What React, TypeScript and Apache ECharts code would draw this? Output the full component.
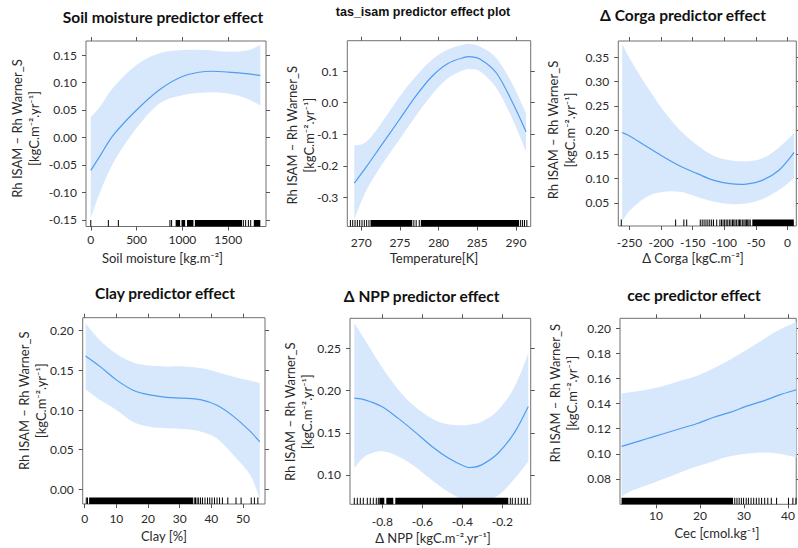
import React, { useEffect, useRef } from "react";
import * as echarts from "echarts";

// ---------- Panel 1: Soil moisture ----------
const soilX = [0, 100, 250, 500, 750, 1000, 1250, 1500, 1700, 1850];
const soilFit = [-0.06, -0.034, 0.005, 0.05, 0.087, 0.111, 0.12, 0.119, 0.116, 0.113];
const soilUpper = [0.037, 0.056, 0.092, 0.132, 0.153, 0.159, 0.159, 0.156, 0.158, 0.168];
const soilLower = [-0.147, -0.1, -0.045, 0.017, 0.062, 0.077, 0.082, 0.08, 0.071, 0.058];
const soilRugTicks = [0, 192, 301, 864, 882, 1665, 1690, 1720, 1745];
const soilRugBlocks = [[926, 975], [990, 1030], [1050, 1120], [1136, 1651], [1779, 1850]];

// ---------- Panel 2: Temperature ----------
const tasX = [269.1, 270.7, 272.8, 274.9, 277.0, 279.1, 281.2, 283.3, 284.1, 285.4, 287.5, 289.6, 291.3];
const tasFit = [-0.255, -0.202, -0.128, -0.055, 0.019, 0.082, 0.124, 0.143, 0.145, 0.137, 0.093, -0.002, -0.092];
const tasUpper = [-0.136, -0.123, -0.058, 0.017, 0.082, 0.135, 0.168, 0.184, 0.185, 0.177, 0.14, 0.056, -0.034];
const tasLower = [-0.37, -0.276, -0.192, -0.118, -0.044, 0.024, 0.077, 0.103, 0.106, 0.098, 0.045, -0.055, -0.155];
const tasRugTicks = [268.6, 268.9, 269.2, 269.5, 269.8, 270.1, 270.4, 270.7, 271.0, 276.8, 277.1, 277.5, 290.6, 290.85, 291.1, 291.4];
const tasRugBlocks = [[271.2, 276.6], [277.7, 290.4]];

// ---------- Panel 3: Δ Corga ----------
const corgaX = [-261.5, -248.4, -222.3, -196.1, -170, -143.8, -117.7, -91.5, -65.4, -39.2, -13.1, 10.5];
const corgaFit = [0.195, 0.187, 0.166, 0.145, 0.126, 0.111, 0.097, 0.09, 0.089, 0.097, 0.118, 0.154];
const corgaUpper = [0.378, 0.345, 0.29, 0.24, 0.2, 0.17, 0.148, 0.138, 0.136, 0.142, 0.165, 0.194];
const corgaLower = [0.012, 0.036, 0.063, 0.073, 0.073, 0.063, 0.053, 0.048, 0.049, 0.058, 0.077, 0.101];
const corgaRugTicks = [-263, -177, -164, -159.5, -138, -135, -132, -129, -126, -123, -120, -117, -112, -107, -104.5, -102, -99.5, -97, -94.5, -92, -89.5, -87, -85, -83, -80.5, -78, -76, -74, -71.5, -69, -67, -65, -63, -61, -59];
const corgaRugBlocks = [[-55.7, 10]];

// ---------- Panel 4: Clay ----------
const clayX = [0.3, 4.8, 10.0, 15.3, 20.6, 25.9, 31.2, 36.5, 41.8, 47.0, 52.3, 55.3];
const clayFit = [0.168, 0.155, 0.138, 0.125, 0.119, 0.116, 0.115, 0.113, 0.106, 0.092, 0.073, 0.06];
const clayUpper = [0.209, 0.188, 0.171, 0.16, 0.156, 0.155, 0.155, 0.153, 0.148, 0.142, 0.137, 0.134];
const clayLower = [0.126, 0.113, 0.1, 0.085, 0.079, 0.077, 0.076, 0.073, 0.064, 0.043, 0.018, -0.012];
const clayRugTicks = [0.5, 0.9, 34.6, 35.0, 35.5, 36.0, 36.6, 37.2, 38.0, 38.8, 39.5, 40.2, 41.0, 41.8, 42.6, 43.5, 45.2, 47.8, 49.4, 52.6, 53.6, 54.7];
const clayRugBlocks = [[1.4, 34.2]];

// ---------- Panel 5: Δ NPP ----------
const nppX = [-0.94, -0.887, -0.803, -0.72, -0.637, -0.553, -0.47, -0.387, -0.353, -0.303, -0.22, -0.137, -0.07];
const nppFit = [0.191, 0.189, 0.181, 0.167, 0.151, 0.134, 0.12, 0.11, 0.109, 0.112, 0.126, 0.151, 0.181];
const nppUpper = [0.28, 0.26, 0.228, 0.201, 0.181, 0.167, 0.16, 0.159, 0.16, 0.163, 0.177, 0.205, 0.244];
const nppLower = [0.108, 0.122, 0.128, 0.122, 0.11, 0.094, 0.08, 0.07, 0.068, 0.068, 0.076, 0.096, 0.116];
const nppRugTicks = [-0.94, -0.925, -0.91, -0.895, -0.875, -0.86, -0.845, -0.83, -0.82, -0.16, -0.15, -0.135, -0.12, -0.105, -0.09, -0.075];
const nppRugBlocks = [[-0.815, -0.79], [-0.78, -0.745], [-0.735, -0.17]];

// ---------- Panel 6: cec ----------
const cecX = [2.2, 4.1, 7.9, 11.7, 15.4, 19.2, 23.0, 26.8, 30.6, 34.3, 38.1, 41.9];
const cecFit = [0.106, 0.108, 0.112, 0.116, 0.12, 0.124, 0.129, 0.133, 0.138, 0.142, 0.147, 0.151];
const cecUpper = [0.148, 0.149, 0.151, 0.154, 0.158, 0.162, 0.168, 0.175, 0.183, 0.191, 0.199, 0.205];
const cecLower = [0.066, 0.07, 0.075, 0.08, 0.085, 0.09, 0.094, 0.098, 0.1, 0.101, 0.1, 0.097];
const cecRugTicks = [27.9, 28.4, 28.9, 29.4, 29.9, 30.5, 31.0, 31.6, 32.2, 32.8, 33.4, 34.0, 34.7, 35.4, 36.2, 37.4, 40.1, 41.1, 41.8];
const cecRugBlocks = [[2.2, 27.5]];

// ---------- Tick labels ----------
const soilXTicks = [0, 500, 1000, 1500];
const soilYTicks = [-0.15, -0.1, -0.05, 0, 0.05, 0.1, 0.15];
const tasXTicks = [270, 275, 280, 285, 290];
const tasYTicks = [-0.3, -0.2, -0.1, 0, 0.1];
const corgaXTicks = [-250, -200, -150, -100, -50, 0];
const corgaYTicks = [0.05, 0.1, 0.15, 0.2, 0.25, 0.3, 0.35];
const clayXTicks = [0, 10, 20, 30, 40, 50];
const clayYTicks = [0, 0.05, 0.1, 0.15, 0.2];
const nppXTicks = [-0.8, -0.6, -0.4, -0.2];
const nppYTicks = [0.1, 0.15, 0.2, 0.25];
const cecXTicks = [10, 20, 30, 40];
const cecYTicks = [0.08, 0.1, 0.12, 0.14, 0.16, 0.18, 0.2];

// ---------- Texts ----------
const titles = [
  "Soil moisture predictor effect",
  "tas_isam predictor effect plot",
  "Δ Corga predictor effect",
  "Clay predictor effect",
  "Δ NPP predictor effect",
  "cec predictor effect",
];
const xTitles = [
  "Soil moisture [kg.m⁻²]",
  "Temperature[K]",
  "Δ Corga [kgC.m⁻²]",
  "Clay [%]",
  "Δ NPP [kgC.m⁻².yr⁻¹]",
  "Cec [cmol.kg⁻¹]",
];
const yTitle = "Rh ISAM – Rh Warner_S\n[kgC.m⁻².yr⁻¹]";

const FONT = "Lato, 'Liberation Sans', 'DejaVu Sans', sans-serif";
const BAND = "#d7e8fd";
const LINE = "#4f9cf0";
const RUG_H = 6.5;

type Panel = {
  x: number[]; fit: number[]; upper: number[]; lower: number[];
  rugTicks: number[]; rugBlocks: number[][];
  xRange: [number, number]; yRange: [number, number];
  xTicks: number[]; yTicks: number[]; xDec: number; yDec: number;
  grid: { left: number; top: number; width: number; height: number };
  title: { x: number; y: number; size: number; font: string };
  xTitle: { x: number; y: number };
  yTitle: { x: number; y: number };
  labelMargin: number;
};

const panels: Panel[] = [
  {
    x: soilX, fit: soilFit, upper: soilUpper, lower: soilLower,
    rugTicks: soilRugTicks, rugBlocks: soilRugBlocks,
    xRange: [-52, 1912], yRange: [-0.162, 0.1755],
    xTicks: soilXTicks, yTicks: soilYTicks, xDec: 0, yDec: 2,
    grid: { left: 86, top: 41, width: 180, height: 185.5 },
    title: { x: 163, y: 17, size: 15.5, font: FONT },
    xTitle: { x: 162.5, y: 258 }, yTitle: { x: 25.5, y: 128.5 }, labelMargin: 7,
  },
  {
    x: tasX, fit: tasFit, upper: tasUpper, lower: tasLower,
    rugTicks: tasRugTicks, rugBlocks: tasRugBlocks,
    xRange: [268.2, 291.9], yRange: [-0.392, 0.196],
    xTicks: tasXTicks, yTicks: tasYTicks, xDec: 0, yDec: 1,
    grid: { left: 347.3, top: 40.7, width: 183.4, height: 185.8 },
    title: { x: 423, y: 12, size: 12.5, font: "'Liberation Sans', Arial, sans-serif" },
    xTitle: { x: 434, y: 257.5 }, yTitle: { x: 300.8, y: 135.3 }, labelMargin: 10,
  },
  {
    x: corgaX, fit: corgaFit, upper: corgaUpper, lower: corgaLower,
    rugTicks: corgaRugTicks, rugBlocks: corgaRugBlocks,
    xRange: [-267.7, 13.9], yRange: [0.0026, 0.3836],
    xTicks: corgaXTicks, yTicks: corgaYTicks, xDec: 0, yDec: 2,
    grid: { left: 618.3, top: 41, width: 178, height: 185 },
    title: { x: 683, y: 15, size: 15.5, font: FONT },
    xTitle: { x: 693, y: 258 }, yTitle: { x: 561.7, y: 130 }, labelMargin: 10.5,
  },
  {
    x: clayX, fit: clayFit, upper: clayUpper, lower: clayLower,
    rugTicks: clayRugTicks, rugBlocks: clayRugBlocks,
    xRange: [-0.63, 56.95], yRange: [-0.0185, 0.2164],
    xTicks: clayXTicks, yTicks: clayYTicks, xDec: 0, yDec: 2,
    grid: { left: 82.7, top: 317.7, width: 182.3, height: 186.3 },
    title: { x: 165, y: 293.3, size: 15.5, font: FONT },
    xTitle: { x: 164, y: 535.5 }, yTitle: { x: 32.5, y: 400.8 }, labelMargin: 8.5,
  },
  {
    x: nppX, fit: nppFit, upper: nppUpper, lower: nppLower,
    rugTicks: nppRugTicks, rugBlocks: nppRugBlocks,
    xRange: [-0.9615, -0.058], yRange: [0.0653, 0.2855],
    xTicks: nppXTicks, yTicks: nppYTicks, xDec: 1, yDec: 2,
    grid: { left: 350, top: 318.3, width: 180.7, height: 186 },
    title: { x: 421.7, y: 295.7, size: 15.5, font: FONT },
    xTitle: { x: 433, y: 538 }, yTitle: { x: 298.3, y: 411.7 }, labelMargin: 11,
  },
  {
    x: cecX, fit: cecFit, upper: cecUpper, lower: cecLower,
    rugTicks: cecRugTicks, rugBlocks: cecRugBlocks,
    xRange: [1.84, 41.86], yRange: [0.0598, 0.208],
    xTicks: cecXTicks, yTicks: cecYTicks, xDec: 0, yDec: 2,
    grid: { left: 620, top: 318.3, width: 176.5, height: 186 },
    title: { x: 694, y: 295, size: 15.5, font: FONT },
    xTitle: { x: 717, y: 533 }, yTitle: { x: 563.3, y: 393.3 }, labelMargin: 5,
  },
];

// Catmull-Rom smoothing of pixel points into cubic bezier path commands (rendering only)
function curve(pts: number[][], start: "M" | "L"): string {
  let d = `${start}${pts[0][0]},${pts[0][1]}`;
  const n = pts.length;
  for (let k = 0; k < n - 1; k++) {
    const p0 = pts[Math.max(0, k - 1)];
    const p1 = pts[k];
    const p2 = pts[k + 1];
    const p3 = pts[Math.min(n - 1, k + 2)];
    const t = 1 / 6;
    const c1x = p1[0] + (p2[0] - p0[0]) * t;
    const c1y = p1[1] + (p2[1] - p0[1]) * t;
    const c2x = p2[0] - (p3[0] - p1[0]) * t;
    const c2y = p2[1] - (p3[1] - p1[1]) * t;
    d += ` C${c1x},${c1y} ${c2x},${c2y} ${p2[0]},${p2[1]}`;
  }
  return d;
}

function buildOption() {
  const grid: any[] = [];
  const xAxis: any[] = [];
  const yAxis: any[] = [];
  const series: any[] = [];
  const graphic: any[] = [];

  const tickStyle = { show: true, length: 4, inside: false, lineStyle: { color: "#555", width: 1 } };
  const labelStyle = { color: "#2a2a2a", fontSize: 12, fontFamily: FONT };

  panels.forEach((p, i) => {
    grid.push({
      ...p.grid, show: true, borderColor: "#707070", borderWidth: 1,
      backgroundColor: "transparent", containLabel: false,
    });
    const xBase = {
      type: "value", gridIndex: i, min: p.xRange[0], max: p.xRange[1],
      axisLine: { show: false, onZero: false }, splitLine: { show: false },
    };
    const yBase = {
      type: "value", gridIndex: i, min: p.yRange[0], max: p.yRange[1],
      axisLine: { show: false, onZero: false }, splitLine: { show: false },
    };
    xAxis.push({
      ...xBase, position: "bottom",
      axisTick: { ...tickStyle, customValues: p.xTicks },
      axisLabel: { ...labelStyle, margin: p.labelMargin, customValues: p.xTicks, formatter: (v: number) => v.toFixed(p.xDec) },
    });
    xAxis.push({
      ...xBase, position: "top",
      axisTick: { ...tickStyle, customValues: p.xTicks },
      axisLabel: { show: false, customValues: p.xTicks },
    });
    yAxis.push({
      ...yBase, position: "left",
      axisTick: { ...tickStyle, customValues: p.yTicks },
      axisLabel: { ...labelStyle, margin: 9, customValues: p.yTicks, formatter: (v: number) => v.toFixed(p.yDec) },
    });
    yAxis.push({
      ...yBase, position: "right",
      axisTick: { ...tickStyle, customValues: p.yTicks },
      axisLabel: { show: false, customValues: p.yTicks },
    });

    const ax = { xAxisIndex: 2 * i, yAxisIndex: 2 * i };

    // confidence band
    series.push({
      ...ax, type: "custom", silent: true, z: 1, clip: true,
      data: [[p.x[0], p.fit[0]]],
      renderItem: (_params: any, api: any) => {
        const up = p.x.map((x, k) => api.coord([x, p.upper[k]]));
        const lo = p.x.map((x, k) => api.coord([x, p.lower[k]])).reverse();
        const d = curve(up, "M") + " " + curve(lo, "L") + " Z";
        return { type: "path", shape: { pathData: d }, style: { fill: BAND, stroke: null } };
      },
    });
    // fitted line
    series.push({
      ...ax, type: "custom", silent: true, z: 3, clip: true,
      data: [[p.x[0], p.fit[0]]],
      renderItem: (_params: any, api: any) => {
        const pts = p.x.map((x, k) => api.coord([x, p.fit[k]]));
        return {
          type: "path", shape: { pathData: curve(pts, "M") },
          style: { fill: null, stroke: LINE, lineWidth: 1.2 },
        };
      },
    });
    // rug ticks
    series.push({
      ...ax, type: "custom", data: p.rugTicks.map((v) => [v]), encode: { x: 0 }, silent: true, z: 4,
      renderItem: (params: any, api: any) => {
        const cs = params.coordSys;
        const x = api.coord([api.value(0), p.yRange[0]])[0];
        const yb = cs.y + cs.height;
        return {
          type: "line",
          shape: { x1: x, y1: yb, x2: x, y2: yb - RUG_H },
          style: { stroke: "#000", lineWidth: 1 },
        };
      },
    });
    // rug dense ranges
    series.push({
      ...ax, type: "custom", data: p.rugBlocks, encode: { x: [0, 1] }, silent: true, z: 4,
      renderItem: (params: any, api: any) => {
        const cs = params.coordSys;
        const x1 = api.coord([api.value(0), p.yRange[0]])[0];
        const x2 = api.coord([api.value(1), p.yRange[0]])[0];
        const yb = cs.y + cs.height;
        return {
          type: "rect",
          shape: { x: x1, y: yb - RUG_H, width: Math.max(1, x2 - x1), height: RUG_H },
          style: { fill: "#000" },
        };
      },
    });

    graphic.push({
      type: "text", x: p.title.x, y: p.title.y, silent: true,
      style: {
        text: titles[i], fill: "#111", fontSize: p.title.size, fontWeight: "bold",
        fontFamily: p.title.font, align: "center", verticalAlign: "middle",
      },
    });
    graphic.push({
      type: "text", x: p.xTitle.x, y: p.xTitle.y, silent: true,
      style: {
        text: xTitles[i], fill: "#2a2a2a", fontSize: 13, fontFamily: FONT,
        align: "center", verticalAlign: "middle",
      },
    });
    graphic.push({
      type: "text", x: p.yTitle.x, y: p.yTitle.y, rotation: Math.PI / 2, silent: true,
      style: {
        text: yTitle, fill: "#2a2a2a", fontSize: 13, fontFamily: FONT, lineHeight: 17,
        align: "center", verticalAlign: "middle",
      },
    });
  });

  return { animation: false, backgroundColor: "#ffffff", grid, xAxis, yAxis, series, graphic };
}

export default function App() {
  const ref = useRef<HTMLDivElement>(null);
  useEffect(() => {
    if (!ref.current) return;
    const chart = echarts.init(ref.current, undefined, { renderer: "svg" });
    chart.setOption(buildOption() as any);
    return () => chart.dispose();
  }, []);
  return (
    <div
      ref={ref}
      style={{ position: "fixed", left: 0, top: 0, width: 798, height: 548, background: "#fff" }}
    />
  );
}
